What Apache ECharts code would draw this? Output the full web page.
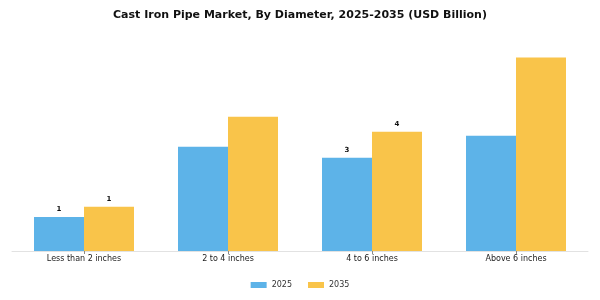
<!DOCTYPE html>
<html>
<head>
<meta charset="utf-8">
<script src="https://cdn.jsdelivr.net/npm/echarts@6/dist/echarts.min.js"></script>
<style>
  html, body { margin: 0; padding: 0; background: #fff; }
  #chart { width: 600px; height: 300px; }
</style>
</head>
<body>
<div id="chart"></div>
<script>
// diameter classes
var categories = ["Less than 2 inches", "2 to 4 inches", "4 to 6 inches", "Above 6 inches"];
// market size, USD billion
var values2025 = [1.08, 3.3, 2.95, 3.65];
var values2035 = [1.4, 4.25, 3.78, 6.13];
// only these categories carry value labels
var labelled = [0, 2];

function labelFmt(p) {
    return labelled.indexOf(p.dataIndex) >= 0 ? Math.round(p.value) : "";
}

var chart = echarts.init(document.getElementById("chart"));
chart.setOption({
    animation: false,
    textStyle: { fontFamily: "DejaVu Sans" },
    title: {
        text: "Cast Iron Pipe Market, By Diameter, 2025-2035 (USD Billion)",
        left: "center",
        top: 5,
        textStyle: { fontSize: 11, fontWeight: "bold", color: "#111", fontFamily: "DejaVu Sans" }
    },
    legend: {
        top: 276,
        left: "center",
        itemWidth: 16,
        itemHeight: 6,
        itemGap: 16,
        icon: "rect",
        textStyle: { fontSize: 8, color: "#333" },
        data: ["2025", "2035"]
    },
    grid: { left: 12, right: 12, top: 30, bottom: 49 },
    xAxis: {
        type: "category",
        data: categories,
        axisLine: { lineStyle: { color: "#e2e2e2" } },
        axisTick: { show: true, alignWithLabel: true, length: 3, lineStyle: { color: "#888" } },
        axisLabel: { fontSize: 8, color: "#222", margin: 4 }
    },
    yAxis: {
        type: "value",
        min: 0,
        max: 7,
        show: false,
        splitLine: { show: false }
    },
    series: [{
        name: "2025",
        type: "bar",
        data: values2025,
        barWidth: 50,
        barGap: "0%",
        itemStyle: { color: "#5DB3E8" },
        label: { show: true, position: "top", formatter: labelFmt, fontSize: 7, fontWeight: "bold", color: "#111", distance: 4 }
    }, {
        name: "2035",
        type: "bar",
        data: values2035,
        barWidth: 50,
        itemStyle: { color: "#F9C44A" },
        label: { show: true, position: "top", formatter: labelFmt, fontSize: 7, fontWeight: "bold", color: "#111", distance: 4 }
    }]
});
</script>
</body>
</html>
